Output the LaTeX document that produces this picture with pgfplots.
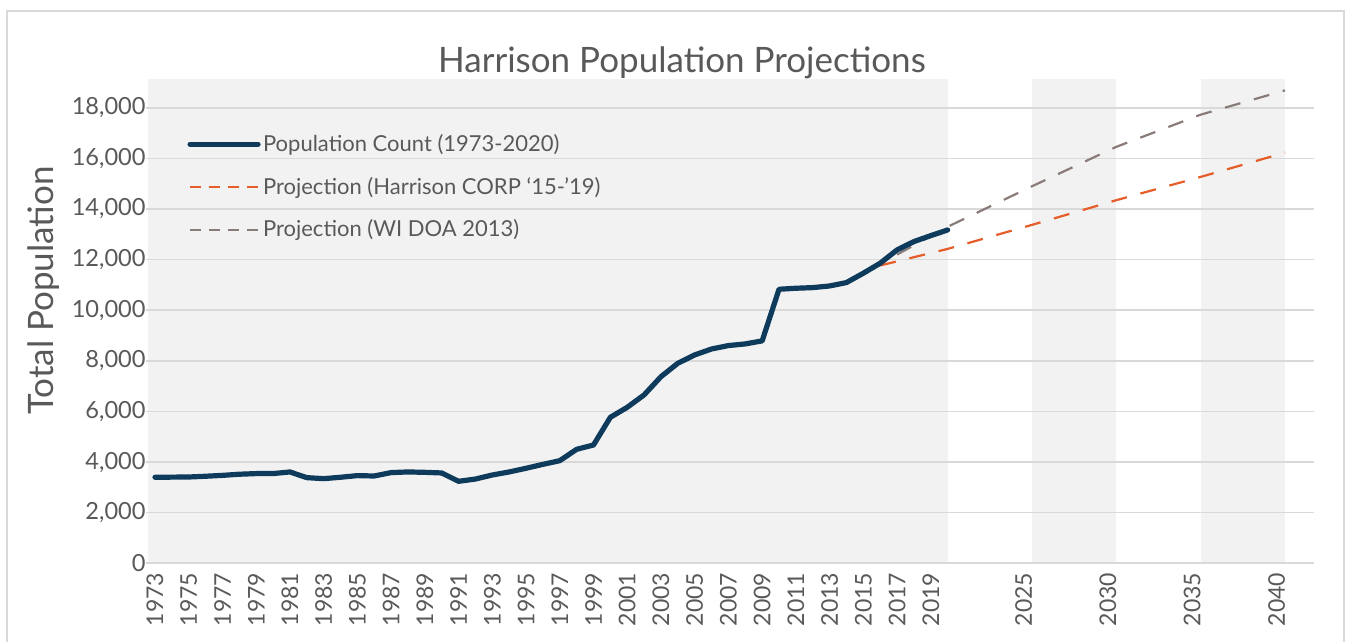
\documentclass[border=0pt]{standalone}
\usepackage{fontspec}
\setmainfont{Lato}
\usepackage{pgfplots}
\usepackage{pgfplotstable}
\pgfplotsset{compat=1.18}

\definecolor{navy}{RGB}{14,58,92}
\definecolor{corp}{RGB}{229,94,41}
\definecolor{doa}{RGB}{137,124,120}
\definecolor{bandgray}{RGB}{242,242,242}
\definecolor{gridgray}{RGB}{217,217,217}
\definecolor{txtgray}{RGB}{89,89,89}

% population count 1973-2020
\pgfplotstableread{
year pop
1973 3400
1974 3405
1975 3410
1976 3440
1977 3475
1978 3520
1979 3545
1980 3545
1981 3610
1982 3385
1983 3345
1984 3400
1985 3465
1986 3450
1987 3585
1988 3610
1989 3595
1990 3570
1991 3240
1992 3330
1993 3490
1994 3610
1995 3755
1996 3910
1997 4055
1998 4505
1999 4675
2000 5770
2001 6165
2002 6655
2003 7375
2004 7905
2005 8235
2006 8470
2007 8605
2008 8670
2009 8790
2010 10830
2011 10870
2012 10895
2013 10960
2014 11095
2015 11465
2016 11860
2017 12385
2018 12715
2019 12950
2020 13175
}\popdata

% Harrison CORP '15-'19
\pgfplotstableread{
year pop
2016 11770
2020 12425
2025 13375
2030 14350
2035 15270
2040 16230
}\corpdata

% WI DOA 2013
\pgfplotstableread{
year pop
2017 12200
2020 13300
2025 14900
2030 16460
2035 17730
2040 18690
}\doadata

\begin{document}
\begin{tikzpicture}
\draw[gridgray, line width=1pt] (3.5pt,0pt) -- (3.5pt,315.35pt) -- (671.75pt,315.35pt) -- (671.75pt,0pt);
\node[anchor=base, font=\fontsize{17.5}{20}\selectfont, text=txtgray] at (341pt,284.65pt) {Harrison Population Projections};
\node[rotate=90, anchor=base, font=\fontsize{17.5}{20}\selectfont, text=txtgray] at (26.65pt,175.75pt) {Total Population};
\begin{axis}[
  at={(74pt,39.35pt)}, anchor=south west,
  scale only axis, width=583pt, height=242.15pt,
  xmin=1972.585, xmax=2041.72, ymin=0, ymax=19140,
  set layers,
  axis x line*=bottom, axis y line*=left,
  x axis line style={draw=gridgray, line width=0.8pt, -},
  y axis line style={draw=none},
  ymajorgrids, grid style={draw=gridgray, line width=0.8pt},
  ytick={0,2000,4000,6000,8000,10000,12000,14000,16000,18000},
  scaled y ticks=false,
  xtick={1973,1975,1977,1979,1981,1983,1985,1987,1989,1991,1993,1995,1997,1999,
    2001,2003,2005,2007,2009,2011,2013,2015,2017,2019,2024.5,2029.5,2034.5,2039.5},
  xticklabels={1973,1975,1977,1979,1981,1983,1985,1987,1989,1991,1993,1995,1997,1999,
    2001,2003,2005,2007,2009,2011,2013,2015,2017,2019,2025,2030,2035,2040},
  xtick style={draw=none},
  ytick style={draw=gridgray, line width=0.8pt},
  ytick align=outside, major tick length=1pt,
  /pgf/number format/assume math mode=true,
  yticklabel style={/pgf/number format/fixed, /pgf/number format/1000 sep={,},
    font=\fontsize{11.8}{13}\selectfont, text=txtgray, inner sep=0pt},
  xticklabel style={rotate=90, anchor=east, font=\fontsize{11.5}{13}\selectfont,
    text=txtgray, inner sep=0pt, inner xsep=4.5pt},
  legend style={at={(0.0335,0.777)}, anchor=west, draw=none, fill=none,
    font=\fontsize{11}{13}\selectfont, text=txtgray, row sep=9pt, inner sep=0pt,
    nodes={inner sep=1.2pt}},
  legend cell align=left,
  reverse legend,
  legend image code/.code={\draw[#1] (0pt,0pt) -- (34pt,0pt);},
]
\addplot[draw=none, fill=bandgray, forget plot, on layer=axis background]
  coordinates {(1972.585,19140) (2020,19140)} \closedcycle;
\addplot[draw=none, fill=bandgray, forget plot, on layer=axis background]
  coordinates {(2025,19140) (2030,19140)} \closedcycle;
\addplot[draw=none, fill=bandgray, forget plot, on layer=axis background]
  coordinates {(2035,19140) (2040,19140)} \closedcycle;

\addplot[doa, line width=1.1pt, dash pattern=on 8pt off 7pt,
  legend image post style={dash pattern=on 5.5pt off 4pt}] table[x=year, y=pop] {\doadata};
\addlegendentry{Projection (WI DOA 2013)}
\addplot[corp, line width=1.1pt, dash pattern=on 8pt off 7pt,
  legend image post style={dash pattern=on 5.5pt off 4pt}] table[x=year, y=pop] {\corpdata};
\addlegendentry{Projection (Harrison CORP ‘15-’19)}
\addplot[navy, line width=2.6pt, line join=round, line cap=round] table[x=year, y=pop] {\popdata};
\addlegendentry{Population Count (1973-2020)}
\end{axis}
\pgfresetboundingbox
\path[use as bounding box] (0pt,0pt) rectangle (673pt,321pt);
\end{tikzpicture}
\end{document}
